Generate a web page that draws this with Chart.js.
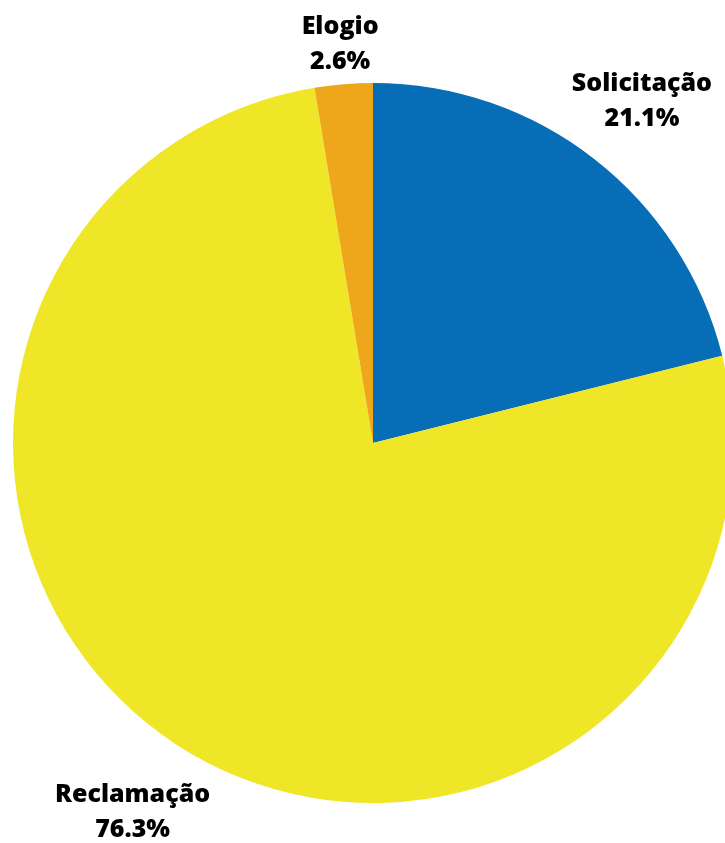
<!DOCTYPE html>
<html>
<head>
<meta charset="utf-8">
<script src="https://cdn.jsdelivr.net/npm/chart.js@4.4.0/dist/chart.umd.min.js"></script>
<style>
  html, body { margin: 0; padding: 0; background: #fff; overflow: hidden; }
  #wrap { position: relative; width: 746px; height: 843px; }
</style>
</head>
<body>
<div id="wrap"><canvas id="pieChart"></canvas></div>
<script>
// chart data
const categories = ['Solicitação', 'Reclamação', 'Elogio'];
const shares = [21.1, 76.3, 2.6];
const sliceColors = ['#076DB6', '#F0E628', '#EEA71B'];

// draws "name / pct%" outside each slice
const outsideLabels = {
    id: 'outsideLabels',
    afterDatasetsDraw(chart) {
        const ctx = chart.ctx;
        const meta = chart.getDatasetMeta(0);
        const lineH = 35;
        ctx.save();
        ctx.font = '800 25px "Open Sans"';
        ctx.fillStyle = '#000';
        ctx.textAlign = 'center';
        ctx.textBaseline = 'middle';
        meta.data.forEach((arc, i) => {
            const mid = (arc.startAngle + arc.endAngle) / 2;
            const cx = Math.cos(mid), cy = Math.sin(mid);
            const line1 = categories[i];
            const line2 = shares[i].toFixed(1) + '%';
            const w = Math.max(ctx.measureText(line1).width, ctx.measureText(line2).width);
            const h = 58;
            const proj = Math.abs(cx) * w / 2 + Math.abs(cy) * h / 2;
            const r = arc.outerRadius + 11 + proj;
            const x = arc.x + cx * r;
            const y = arc.y + cy * r + 3;
            ctx.fillText(line1, x, y - lineH / 2);
            ctx.fillText(line2, x, y + lineH / 2);
        });
        ctx.restore();
    }
};

const ctx = document.getElementById('pieChart').getContext('2d');
const pieChart = new Chart(ctx, {
    type: 'pie',
    data: {
        labels: categories,
        datasets: [{
            data: shares,
            backgroundColor: sliceColors,
            borderWidth: 0
        }]
    },
    options: {
        responsive: true,
        maintainAspectRatio: false,
        animation: false,
        layout: { padding: { top: 83, bottom: 40, left: 13, right: 13 } },
        plugins: {
            legend: { display: false },
            tooltip: { enabled: false }
        }
    },
    plugins: [outsideLabels]
});
</script>
</body>
</html>
